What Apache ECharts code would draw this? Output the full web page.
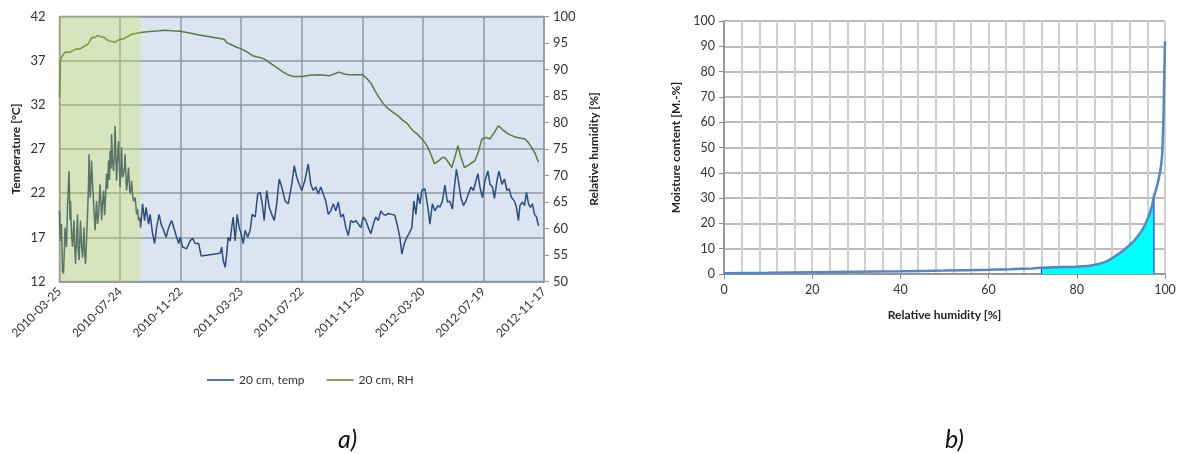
<!DOCTYPE html>
<html>
<head>
<meta charset="utf-8">
<script src="https://cdn.jsdelivr.net/npm/echarts@6/dist/echarts.min.js"></script>
<style>
html,body{margin:0;padding:0;background:#fff;}
#c{width:1185px;height:454px;}
</style>
</head>
<body>
<div id="c"></div>
<script>
// ---------- Chart a) data ----------
const dateLabels = ['2010-03-25','2010-07-24','2010-11-22','2011-03-23','2011-07-22','2011-11-20','2012-03-20','2012-07-19','2012-11-17'];
const tickStepDays = 121;
const tempTicks = [12, 17, 22, 27, 32, 37, 42];
const rhTicks = [50, 100];
const greenZone = [0, 162];   // days of the shaded (green) period

// [day since 2010-03-25, temperature °C]
const tempData = [[0,20.0],[2,16.6],[4,18.5],[6,13.2],[8,12.9],[10,16.0],[11,18.1],[14,15.9],[16,20.5],[19,24.5],[21,19.0],[22,21.1],[24,17.5],[26,15.9],[29,18.9],[30,16.5],[32,14.0],[34,17.0],[36,19.6],[37,16.0],[39,14.4],[42,18.9],[44,16.0],[46,14.7],[49,18.1],[50,15.5],[52,14.0],[54,16.8],[56,19.6],[58,23.0],[59,26.4],[61,21.5],[62,22.3],[64,25.7],[66,23.0],[68,21.1],[70,19.0],[71,17.8],[74,21.1],[76,18.5],[78,19.6],[81,23.0],[83,20.5],[84,18.9],[86,21.0],[88,22.3],[90,19.5],[91,20.4],[94,24.2],[96,22.5],[98,25.7],[100,23.5],[101,26.8],[103,24.8],[104,28.7],[106,25.5],[108,24.5],[110,27.0],[111,29.6],[113,25.5],[114,23.4],[116,26.0],[118,27.9],[120,24.5],[121,22.7],[123,25.0],[124,27.2],[126,23.8],[128,24.2],[130,25.0],[131,26.4],[133,23.5],[134,22.3],[136,23.5],[138,24.9],[140,22.5],[141,21.9],[143,22.6],[144,23.4],[146,21.8],[148,21.1],[151,21.5],[153,20.3],[154,19.6],[156,20.2],[158,18.9],[160,19.3],[162,18.1],[166,20.8],[170,18.9],[173,20.4],[178,18.5],[181,19.6],[186,17.4],[190,16.3],[194,18.1],[199,19.6],[203,18.5],[208,17.8],[213,17.0],[218,18.1],[224,18.9],[230,17.8],[234,17.0],[238,16.3],[241,17.0],[246,15.9],[254,15.7],[261,16.6],[266,16.9],[271,16.3],[278,16.3],[283,14.9],[297,15.0],[321,15.2],[324,15.9],[327,14.4],[331,13.6],[334,15.1],[337,17.0],[341,16.6],[344,18.1],[347,19.3],[351,16.6],[355,19.6],[359,18.1],[363,17.4],[367,16.3],[371,17.8],[376,17.0],[381,17.8],[385,19.6],[391,19.3],[396,21.9],[401,22.1],[405,20.8],[409,18.9],[414,22.3],[419,20.4],[424,19.6],[429,18.9],[434,20.8],[439,23.6],[444,22.7],[451,21.1],[457,20.8],[464,23.0],[469,25.1],[474,23.8],[479,23.0],[484,22.3],[490,23.4],[497,25.3],[502,23.0],[507,22.3],[512,22.7],[517,21.9],[522,22.7],[527,21.9],[532,21.1],[537,19.6],[542,20.0],[547,20.8],[552,20.0],[557,21.0],[562,19.3],[567,19.6],[572,18.1],[577,17.2],[582,18.9],[587,18.7],[592,18.9],[597,18.5],[602,18.1],[607,19.3],[612,18.9],[617,18.1],[622,17.4],[627,18.5],[632,19.3],[637,18.9],[642,20.0],[647,19.6],[652,19.5],[657,19.7],[664,19.6],[670,19.5],[676,18.1],[680,17.0],[684,15.1],[689,16.3],[694,17.0],[698,17.4],[704,18.1],[708,21.1],[712,19.6],[716,21.9],[720,20.8],[724,22.3],[730,22.5],[736,20.4],[740,18.5],[745,20.8],[750,20.0],[756,20.6],[760,20.4],[765,21.1],[770,22.9],[775,21.0],[780,21.1],[785,20.2],[789,22.7],[793,24.7],[797,23.4],[802,21.5],[807,20.6],[812,21.1],[817,21.9],[822,22.7],[827,22.3],[832,23.4],[836,24.2],[840,22.7],[845,21.5],[850,23.4],[856,24.5],[860,23.0],[865,22.7],[869,21.4],[874,23.4],[878,24.5],[884,23.0],[889,23.6],[894,22.3],[898,22.5],[903,21.5],[909,21.1],[913,20.4],[917,18.9],[920,20.6],[925,21.0],[929,20.6],[933,22.1],[937,20.8],[941,20.4],[945,20.8],[949,19.6],[953,19.3],[957,18.3]];

// [day since 2010-03-25, relative humidity %]
const rhData = [[0,84.8],[1,88.0],[2,91.7],[5,92.5],[8,92.9],[12,93.3],[15,93.5],[20,93.2],[27,93.6],[34,93.9],[40,93.8],[46,94.2],[52,94.5],[57,94.8],[62,95.6],[65,96.1],[70,96.0],[76,96.4],[82,96.2],[88,96.1],[94,95.7],[99,95.4],[105,95.3],[111,95.1],[116,95.5],[122,95.7],[128,95.8],[134,96.1],[140,96.4],[145,96.7],[152,96.8],[162,97.0],[175,97.1],[187,97.2],[200,97.3],[210,97.4],[225,97.3],[241,97.2],[260,96.9],[279,96.5],[300,96.2],[329,95.7],[334,95.1],[340,94.8],[352,94.3],[363,93.9],[375,93.3],[386,92.6],[398,92.3],[409,92.0],[424,91.0],[435,90.3],[447,89.5],[457,89.0],[466,88.7],[476,88.7],[485,88.7],[500,88.9],[516,89.0],[530,88.9],[539,88.8],[550,89.2],[558,89.5],[568,89.2],[577,89.0],[590,89.0],[606,89.0],[615,88.2],[623,87.3],[630,86.0],[638,84.8],[645,83.8],[653,82.9],[665,82.0],[676,81.3],[685,80.5],[695,79.8],[701,79.0],[707,78.4],[715,77.8],[724,76.9],[730,76.2],[736,75.3],[742,74.0],[749,72.2],[758,72.8],[765,73.4],[770,73.4],[777,72.5],[784,71.5],[790,73.5],[796,75.6],[802,73.5],[809,71.5],[818,72.0],[830,72.8],[837,74.5],[844,76.9],[852,77.2],[860,76.9],[868,78.0],[877,79.4],[887,78.5],[897,77.8],[912,77.2],[930,76.9],[937,76.2],[943,75.3],[950,74.2],[957,72.5]];

// ---------- Chart b) data ----------
const rhAxisTicks = [0, 20, 40, 60, 80, 100];
const mcAxisTicks = [0, 100];
const isoRH = [0, 10, 20, 30, 40, 50, 60, 65, 70, 72, 75, 80, 83, 85, 87, 88, 89, 90, 91, 92, 93, 94, 95, 96, 97, 97.5, 98, 98.5, 99, 99.3, 99.5, 99.7, 99.85, 100];
const isoMC = [0.3, 0.45, 0.65, 0.85, 1.05, 1.35, 1.7, 1.9, 2.2, 2.5, 2.7, 2.9, 3.3, 4.0, 5.2, 6.2, 7.4, 8.6, 10.0, 11.5, 13.1, 15.3, 17.8, 21.5, 26.5, 30.8, 33.5, 37.0, 41.5, 46.0, 53.0, 65.0, 80.0, 92.0];
const fillRange = [72, 97.5];

// ---------- build ----------
const isoCurve = isoRH.map((r, i) => [r, isoMC[i]]);
const fillPts = [[fillRange[0], 0]].concat(
  isoCurve.filter(p => p[0] >= fillRange[0] && p[0] <= fillRange[1]),
  [[fillRange[1], 0]]
);

const FONT = 'Lato, "Open Sans", sans-serif';
const gridCol = '#8f99a4';

const chart = echarts.init(document.getElementById('c'), null, {renderer: 'canvas'});
chart.setOption({
  animation: false,
  backgroundColor: '#ffffff',
  textStyle: {fontFamily: FONT},
  title: [
    {text: 'a)', left: 333, top: 422, textStyle: {fontFamily: FONT, fontSize: 25, fontStyle: 'italic', fontWeight: 'normal', color: '#111'}},
    {text: 'b)', left: 940, top: 422, textStyle: {fontFamily: FONT, fontSize: 25, fontStyle: 'italic', fontWeight: 'normal', color: '#111'}}
  ],
  legend: {
    data: [
      {name: '20 cm, temp', icon: 'rect', itemStyle: {color: '#60739a'}},
      {name: '20 cm, RH', icon: 'rect', itemStyle: {color: '#8a9f5e'}}
    ],
    left: 202, top: 369,
    itemWidth: 27, itemHeight: 2, itemGap: 22,
    textStyle: {fontFamily: FONT, fontSize: 12, color: '#333'}
  },
  grid: [
    {left: 59.5, right: 641, top: 16.5, bottom: 172.5, show: true, backgroundColor: '#dbe5f1', borderColor: gridCol, borderWidth: 1.5},
    {left: 724, right: 20, top: 21, bottom: 180, show: false}
  ],
  xAxis: [
    {
      type: 'value', gridIndex: 0, min: 0, max: tickStepDays * (dateLabels.length - 1), interval: tickStepDays,
      axisLine: {show: true, lineStyle: {color: gridCol, width: 1.5}},
      axisTick: {show: false},
      splitLine: {show: true, lineStyle: {color: gridCol, width: 1.5}},
      axisLabel: {
        rotate: 45, margin: 8, fontSize: 12, color: '#333', fontFamily: FONT,
        showMinLabel: true, showMaxLabel: true,
        formatter: v => dateLabels[Math.round(v / tickStepDays)]
      }
    },
    {
      type: 'value', gridIndex: 1, min: rhAxisTicks[0], max: rhAxisTicks[rhAxisTicks.length - 1], interval: 20,
      name: 'Relative humidity [%]', nameLocation: 'middle', nameGap: 35,
      nameTextStyle: {fontFamily: FONT, fontSize: 12, fontWeight: 'bold', color: '#222'},
      axisLine: {show: true, onZero: false, lineStyle: {color: '#8a8a8a', width: 1.5}},
      axisTick: {show: true, length: 5, lineStyle: {color: '#8a8a8a'}},
      minorTick: {show: false, splitNumber: 5},
      minorSplitLine: {show: true, lineStyle: {color: '#cfcfcf', width: 2}},
      splitLine: {show: true, lineStyle: {color: '#cfcfcf', width: 2}},
      axisLabel: {fontSize: 12.5, color: '#333', margin: 9, fontFamily: FONT}
    }
  ],
  yAxis: [
    {
      type: 'value', gridIndex: 0, min: tempTicks[0], max: tempTicks[tempTicks.length - 1], interval: 5,
      name: 'Temperature [°C]', nameLocation: 'middle', nameGap: 37, nameRotate: 90,
      nameTextStyle: {fontFamily: FONT, fontSize: 12, fontWeight: 'bold', color: '#222'},
      axisLine: {show: false}, axisTick: {show: false},
      splitLine: {show: true, lineStyle: {color: gridCol, width: 1.5}},
      axisLabel: {fontSize: 13, color: '#333', margin: 14, fontFamily: FONT}
    },
    {
      type: 'value', gridIndex: 0, position: 'right', min: rhTicks[0], max: rhTicks[1], interval: 5,
      name: 'Relative humidity [%]', nameLocation: 'middle', nameGap: 44, nameRotate: 90,
      nameTextStyle: {fontFamily: FONT, fontSize: 12, fontWeight: 'bold', color: '#222'},
      axisLine: {show: false},
      axisTick: {show: true, length: 5, lineStyle: {color: gridCol}},
      splitLine: {show: false},
      axisLabel: {fontSize: 13, color: '#333', margin: 9, fontFamily: FONT}
    },
    {
      type: 'value', gridIndex: 1, min: mcAxisTicks[0], max: mcAxisTicks[1], interval: 10,
      name: 'Moisture content [M.-%]', nameLocation: 'middle', nameGap: 42, nameRotate: 90,
      nameTextStyle: {fontFamily: FONT, fontSize: 12, fontWeight: 'bold', color: '#222'},
      axisLine: {show: true, lineStyle: {color: '#8a8a8a', width: 1.5}},
      axisTick: {show: true, length: 5, lineStyle: {color: '#8a8a8a'}},
      splitLine: {show: true, lineStyle: {color: '#a6a6a6', width: 1.5}},
      axisLabel: {fontSize: 12.5, color: '#333', margin: 9, fontFamily: FONT}
    }
  ],
  series: [
    {
      name: '20 cm, temp', type: 'line', xAxisIndex: 0, yAxisIndex: 0, z: 2,
      data: tempData, showSymbol: false, symbol: 'none',
      lineStyle: {color: '#2d4c7c', width: 1.5}, itemStyle: {color: '#2d4c7c'}
    },
    {
      name: '20 cm, RH', type: 'line', xAxisIndex: 0, yAxisIndex: 1, z: 2,
      data: rhData, showSymbol: false, symbol: 'none',
      lineStyle: {color: '#5a7a3c', width: 1.5}, itemStyle: {color: '#5a7a3c'}
    },
    {
      name: 'zone', type: 'custom', xAxisIndex: 0, yAxisIndex: 0, z: 5, silent: true,
      data: [[greenZone[0], greenZone[1], tempTicks[0], tempTicks[tempTicks.length - 1]]],
      encode: {x: [0, 1], y: [2, 3]},
      renderItem: function (params, api) {
        const p0 = api.coord([api.value(0), api.value(3)]);
        const p1 = api.coord([api.value(1), api.value(2)]);
        return {type: 'rect', shape: {x: p0[0], y: p0[1], width: p1[0] - p0[0], height: p1[1] - p0[1]},
                style: {fill: 'rgba(205,225,55,0.28)'}};
      }
    },
    {
      name: 'fill', type: 'line', xAxisIndex: 1, yAxisIndex: 2, z: 2,
      data: fillPts, showSymbol: false, symbol: 'none',
      lineStyle: {color: '#1f3bff', width: 1.2},
      areaStyle: {color: '#00ffff', opacity: 1, origin: 'start'}
    },
    {
      name: 'isotherm', type: 'line', xAxisIndex: 1, yAxisIndex: 2, z: 3,
      data: isoCurve, showSymbol: false, symbol: 'none', smooth: 0.2,
      lineStyle: {color: '#5585c4', width: 2.5}
    }
  ]
});
</script>
</body>
</html>
